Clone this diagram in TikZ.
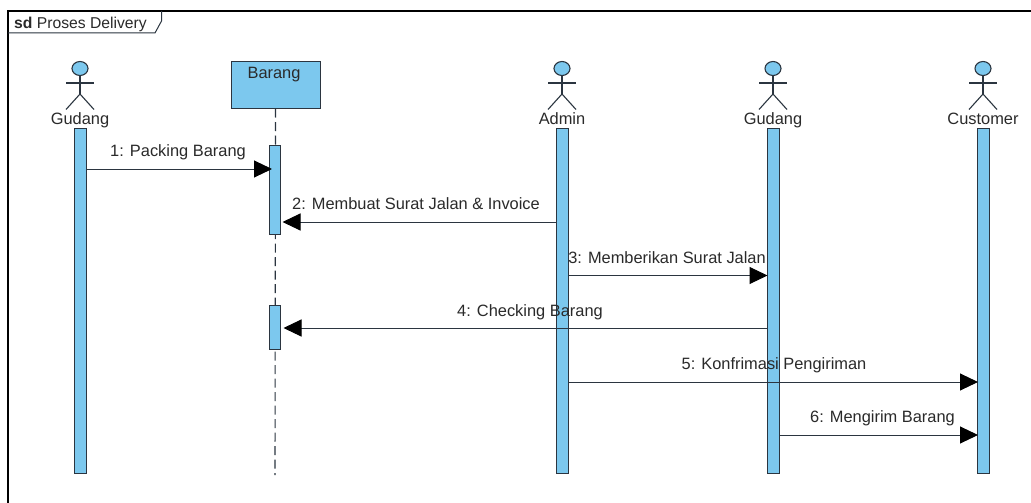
\documentclass[tikz,border=0pt]{standalone}
\usepackage{fontspec}
\setmainfont{Liberation Sans}
\usetikzlibrary{arrows.meta,shapes.geometric}
\definecolor{fillblue}{HTML}{7CC8EE}
\definecolor{inkline}{HTML}{2B3540}
\definecolor{txt}{HTML}{2A2A2A}
\tikzset{
  x=1pt,y=-1pt,
  bar/.style={draw=inkline,fill=fillblue,line width=1pt,minimum width=12pt,inner sep=0pt,anchor=north},
  msg/.style={draw=inkline,line width=1pt,-{Triangle[length=18pt,width=17pt,fill=black,color=black]}},
  lbl/.style={text=txt,font=\fontsize{16.4}{18}\selectfont,inner sep=0pt,anchor=base},
  life/.style={draw=inkline,line width=1.1pt,dash pattern=on 9pt off 4.5pt},
  limb/.style={draw=inkline,line width=1.1pt},
  head/.style={ellipse,draw=inkline,fill=fillblue,line width=1.1pt,minimum width=16pt,minimum height=14pt,inner sep=0pt},
}
\newcommand{\actor}[3]{% name, x, label
  \node[head] (#1h) at (#2,68.5) {};
  \coordinate (#1c) at (#2,94);
  \coordinate (#1l) at (#2-14,83);
  \coordinate (#1r) at (#2+14,83);
  \coordinate (#1f) at (#2-14,109.5);
  \coordinate (#1g) at (#2+14,109.5);
  \draw[limb] (#1h.south) -- (#1c);
  \draw[limb] (#1l) -- (#1r);
  \draw[limb] (#1f) -- (#1c) -- (#1g);
  \node[lbl] (#1t) at (#2,124.5) {#3};
}
\begin{document}
\begin{tikzpicture}
\useasboundingbox (0,0) rectangle (1031,503);
\fill[white] (0,0) rectangle (1031,503);
% frame
\coordinate (fa) at (8,503);
\coordinate (fb) at (8,11);
\coordinate (fc) at (1031,11);
\draw[black,line width=2.6pt] (fa) -- (fb) -- (fc);
\coordinate (ta) at (8,33);
\coordinate (tb) at (155,33);
\coordinate (tc) at (161.5,21);
\coordinate (td) at (161.5,11);
\draw[inkline,line width=1pt] (ta) -- (tb) -- (tc) -- (td);
\node[lbl,anchor=base west,font=\fontsize{15.7}{18}\selectfont] (title) at (14,28.5) {\textbf{sd} Proses Delivery};
% lifelines
\node[draw=inkline,fill=fillblue,line width=1pt,minimum width=89pt,minimum height=46.5pt,inner sep=0pt,anchor=north] (bar) at (275.5,61) {};
\node[lbl] (bart) at (274,78) {Barang};
\coordinate (bend) at (275,475);
\draw[life] (bar.south) -- (bend);
\actor{a}{80}{Gudang}
\actor{b}{562}{Admin}
\actor{c}{773}{Gudang}
\actor{d}{983}{Customer}
\node[bar,minimum height=345pt] (A) at (80,128) {};
\node[bar,minimum width=11pt,minimum height=89pt] (B1) at (275,145) {};
\node[bar,minimum width=11pt,minimum height=44pt] (B2) at (275,305) {};
\node[bar,minimum height=345pt] (C) at (562,128) {};
\node[bar,minimum height=345pt] (D) at (773,128) {};
\node[bar,minimum height=345pt] (E) at (983,128) {};
% messages
\draw[msg] (A.east |- 0,169) -- ([xshift=3pt]B1.west |- 0,169);
\node[lbl] (l1) at (178,156.5) {1: Packing Barang};
\draw[msg] (C.west |- 0,222) -- ([xshift=1.5pt]B1.east |- 0,222);
\node[lbl] (l2) at (416,209) {2: Membuat Surat Jalan \& Invoice};
\draw[msg] (C.east |- 0,275.5) -- ([xshift=1pt]D.west |- 0,275.5);
\node[lbl] (l3) at (667,263) {3: Memberikan Surat Jalan};
\draw[msg] (D.west |- 0,328) -- ([xshift=2.5pt]B2.east |- 0,328);
\node[lbl] (l4) at (530,316) {4: Checking Barang};
\draw[msg] (C.east |- 0,382) -- ([xshift=1.5pt]E.west |- 0,382);
\node[lbl] (l5) at (774,369) {5: Konfrimasi Pengiriman};
\draw[msg] (D.east |- 0,435) -- ([xshift=1.5pt]E.west |- 0,435);
\node[lbl] (l6) at (882.5,422.5) {6: Mengirim Barang};
\end{tikzpicture}
\end{document}
